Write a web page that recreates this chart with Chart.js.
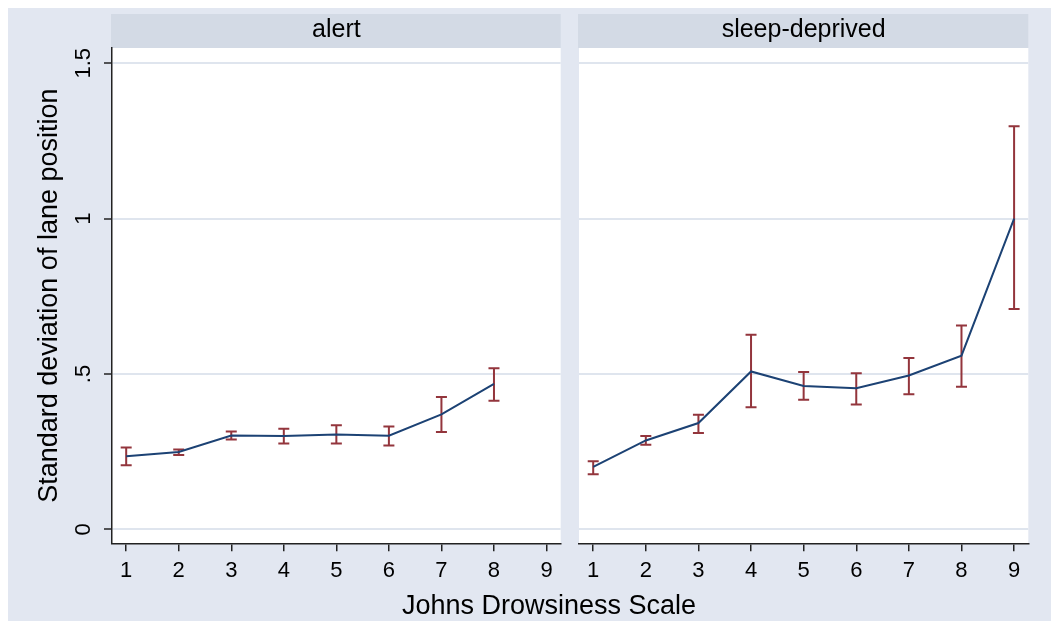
<!DOCTYPE html>
<html><head><meta charset="utf-8">
<script src="https://cdn.jsdelivr.net/npm/chart.js@4.4.0/dist/chart.umd.min.js"></script>
<style>
html,body{margin:0;padding:0;background:#fff;width:1051px;height:621px;overflow:hidden;}
#bg{position:absolute;left:8px;top:8px;width:1043px;height:613px;background:#E2E7F1;}
#c1{position:absolute;left:0;top:0;}
#c2{position:absolute;left:570px;top:0;}
#xt{position:absolute;left:349px;top:589px;width:400px;text-align:center;font-family:"Liberation Sans",Arial,sans-serif;font-size:27px;line-height:32px;color:#000;white-space:nowrap;}
</style></head><body>
<div id="bg"></div>
<canvas id="c1" width="575" height="621"></canvas>
<canvas id="c2" width="481" height="621"></canvas>
<div id="xt">Johns Drowsiness Scale</div>
<script>
// ---- data ----
const panelNames = ["alert", "sleep-deprived"];
const xTicks = [1, 2, 3, 4, 5, 6, 7, 8, 9];
const yTicks = [0, 0.5, 1, 1.5];
const yTickLabels = ["0", ".5", "1", "1.5"];
const xTitle = "Johns Drowsiness Scale";
const yTitle = "Standard deviation of lane position";

const alertX    = [1, 2, 3, 4, 5, 6, 7, 8];
const alertMean = [0.235, 0.249, 0.302, 0.300, 0.305, 0.301, 0.370, 0.468];
const alertLow  = [0.206, 0.239, 0.289, 0.276, 0.276, 0.270, 0.313, 0.414];
const alertHigh = [0.263, 0.257, 0.315, 0.324, 0.335, 0.331, 0.426, 0.518];

const sleepX    = [1, 2, 3, 4, 5, 6, 7, 8, 9];
const sleepMean = [0.201, 0.286, 0.342, 0.508, 0.461, 0.454, 0.495, 0.559, 1.000];
const sleepLow  = [0.177, 0.272, 0.310, 0.393, 0.417, 0.402, 0.435, 0.459, 0.709];
const sleepHigh = [0.219, 0.300, 0.369, 0.626, 0.506, 0.502, 0.551, 0.656, 1.297];

// ---- style ----
const FONT = '"Liberation Sans", Arial, sans-serif';
const STRIP = '#D3DAE5';
const GRID = '#DFE5EE';
const AXIS = '#222222';
const NAVY = '#1C4274';
const MAROON = '#93353C';

const panelPlugin = {
  id: 'panel',
  beforeDraw(chart, args, opts) {
    const {ctx, chartArea: a} = chart;
    ctx.save();
    ctx.fillStyle = '#ffffff';
    ctx.fillRect(a.left, a.top, a.right - a.left, a.bottom - a.top);
    ctx.fillStyle = STRIP;
    ctx.fillRect(a.left - 1, 14, a.right - a.left + 1, a.top - 14);
    ctx.fillStyle = '#000';
    ctx.font = '25px ' + FONT;
    ctx.textAlign = 'center';
    ctx.textBaseline = 'middle';
    ctx.fillText(opts.label, (a.left + a.right) / 2, 30);
    ctx.restore();
  },
  beforeDatasetsDraw(chart, args, opts) {
    const {ctx} = chart;
    const xs = chart.scales.x, ys = chart.scales.y;
    ctx.save();
    ctx.strokeStyle = MAROON;
    ctx.lineWidth = 2;
    opts.xs.forEach((xv, i) => {
      const px = xs.getPixelForValue(xv);
      const pl = ys.getPixelForValue(opts.low[i]);
      const ph = ys.getPixelForValue(opts.high[i]);
      ctx.beginPath();
      ctx.moveTo(px, pl); ctx.lineTo(px, ph);
      ctx.moveTo(px - 5.5, pl); ctx.lineTo(px + 5.5, pl);
      ctx.moveTo(px - 5.5, ph); ctx.lineTo(px + 5.5, ph);
      ctx.stroke();
    });
    ctx.restore();
  }
};

function makeX() {
  return {
    type: 'linear', min: 0.73, max: 9.27,
    afterBuildTicks: s => { s.ticks = xTicks.map(v => ({value: v})); },
    afterFit: s => { s.height = 77.7; },
    ticks: {font: {size: 22, family: FONT}, color: '#000', padding: 6, maxRotation: 0, autoSkip: false,
            callback: v => String(v)},
    grid: {drawOnChartArea: false, tickLength: 8, tickColor: AXIS, lineWidth: 1.5},
    border: {color: AXIS, width: 1.5}
  };
}

function makeChart(id, name, xsArr, mean, low, high, first) {
  const yScale = {
    min: -0.045, max: 1.549,
    afterBuildTicks: s => { s.ticks = yTicks.map(v => ({value: v})); },
    afterFit: s => { s.width = first ? 112 : 0; },
    ticks: {display: first, font: {size: 22, family: FONT}, color: '#000',
            minRotation: 90, maxRotation: 90, crossAlign: 'center', padding: 4.5,
            callback: v => yTickLabels[yTicks.indexOf(v)]},
    grid: {color: GRID, lineWidth: 2, drawTicks: first, tickColor: AXIS, tickLength: 8, tickWidth: 1.5},
    border: {display: first, color: AXIS, width: 1.5},
    title: {display: first, text: yTitle, color: '#000', font: {size: 27, family: FONT}, padding: {top: 33, bottom: 0}}
  };
  return new Chart(document.getElementById(id), {
    type: 'line',
    data: {
      datasets: [{
        data: xsArr.map((x, i) => ({x: x, y: mean[i]})),
        borderColor: NAVY, borderWidth: 2, pointRadius: 0, tension: 0, fill: false
      }]
    },
    options: {
      responsive: false, animation: false,
      layout: {padding: first ? {left: 0, right: 14.3, top: 48, bottom: 0} : {left: 9, right: 22.7, top: 48, bottom: 0}},
      scales: {x: makeX(), y: yScale},
      plugins: {
        legend: {display: false}, tooltip: {enabled: false},
        panel: {label: name, xs: xsArr, low: low, high: high}
      }
    },
    plugins: [panelPlugin]
  });
}

makeChart('c1', panelNames[0], alertX, alertMean, alertLow, alertHigh, true);
makeChart('c2', panelNames[1], sleepX, sleepMean, sleepLow, sleepHigh, false);
document.getElementById('xt').textContent = xTitle;
</script>
</body></html>
